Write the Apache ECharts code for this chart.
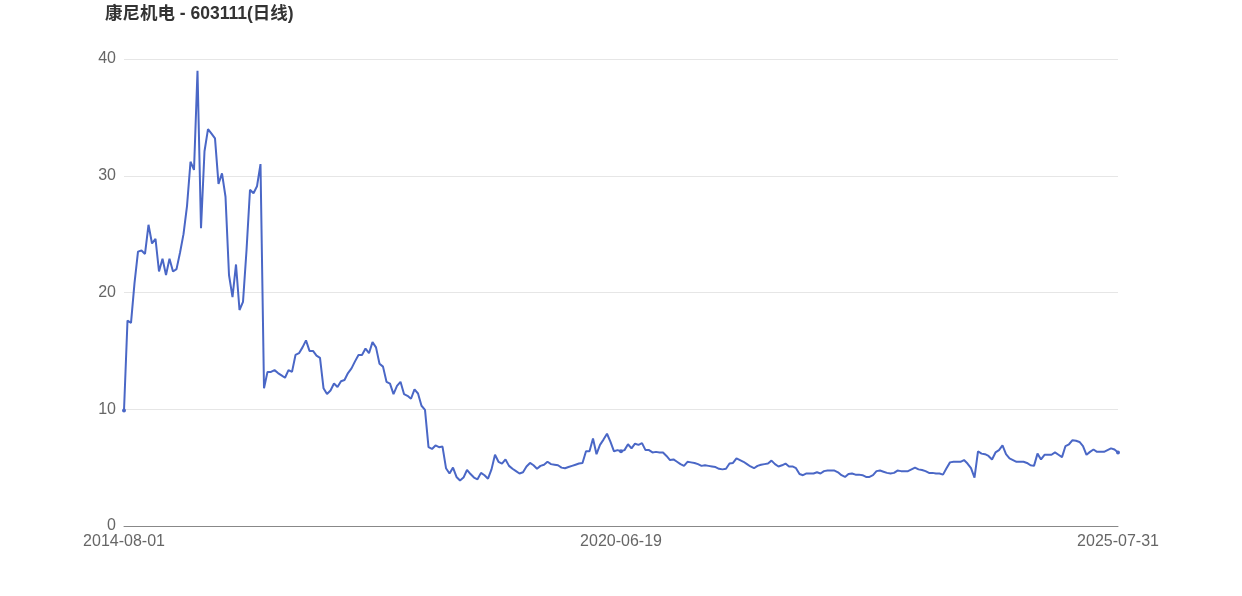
<!DOCTYPE html>
<html>
<head>
<meta charset="utf-8">
<script src="https://cdn.jsdelivr.net/npm/echarts@6/dist/echarts.min.js"></script>
<style>html,body{margin:0;padding:0;background:#fff}#c{width:1242px;height:596px}</style>
</head>
<body>
<div id="c"></div>
<script>
const titleText = '康尼机电 - 603111(日线)';
const dateAnchors = ['2014-08-01', '2020-06-19', '2025-07-31'];
const yTicks = [0, 10, 20, 30, 40];
const closePrices = [
 9.9,17.6,17.4,20.8,23.5,23.6,23.3,25.8,24.2,24.6,
 21.8,22.9,21.5,22.9,21.8,22.0,23.4,25.0,27.4,31.2,
 30.5,39.0,25.5,32.1,34.0,33.6,33.2,29.3,30.2,28.2,
 21.5,19.6,22.4,18.5,19.2,23.6,28.8,28.5,29.1,31.0,
 11.8,13.2,13.2,13.35,13.1,12.9,12.7,13.35,13.2,14.65,
 14.8,15.3,15.9,15.0,15.0,14.6,14.4,11.8,11.3,11.6,
 12.2,11.9,12.4,12.5,13.1,13.5,14.1,14.65,14.65,15.2,
 14.8,15.75,15.3,13.9,13.65,12.35,12.2,11.3,12.0,12.35,
 11.3,11.15,10.9,11.7,11.35,10.3,9.95,6.75,6.6,6.9,
 6.75,6.8,4.95,4.5,5.0,4.2,3.9,4.15,4.8,4.45,
 4.15,4.0,4.55,4.35,4.05,4.85,6.1,5.5,5.35,5.7,
 5.15,4.9,4.7,4.5,4.6,5.1,5.4,5.2,4.9,5.15,
 5.25,5.5,5.3,5.25,5.2,5.0,4.95,5.05,5.15,5.25,
 5.35,5.4,6.4,6.4,7.5,6.15,6.95,7.4,7.9,7.2,
 6.4,6.5,6.4,6.5,7.0,6.65,7.05,6.95,7.1,6.5,
 6.5,6.3,6.35,6.3,6.3,6.0,5.65,5.7,5.5,5.3,
 5.15,5.5,5.45,5.4,5.3,5.15,5.2,5.15,5.1,5.05,
 4.9,4.85,4.9,5.35,5.4,5.8,5.65,5.5,5.3,5.1,
 4.95,5.15,5.25,5.3,5.35,5.6,5.3,5.1,5.2,5.35,
 5.1,5.1,4.95,4.45,4.35,4.5,4.5,4.5,4.6,4.5,
 4.7,4.75,4.75,4.75,4.6,4.35,4.2,4.45,4.5,4.4,
 4.4,4.35,4.2,4.2,4.35,4.7,4.75,4.65,4.55,4.5,
 4.55,4.75,4.7,4.7,4.7,4.85,5.0,4.85,4.8,4.7,
 4.55,4.55,4.5,4.5,4.4,4.95,5.45,5.5,5.5,5.5,
 5.65,5.35,4.95,4.15,6.4,6.2,6.15,6.0,5.7,6.3,
 6.5,6.9,6.15,5.8,5.65,5.5,5.5,5.5,5.4,5.2,
 5.15,6.2,5.7,6.1,6.1,6.1,6.3,6.1,5.9,6.85,
 7.0,7.35,7.3,7.2,6.85,6.1,6.35,6.55,6.35,6.35,
 6.35,6.5,6.65,6.55,6.3
];
const N = closePrices.length;
const MID = Math.floor((N - 1) / 2);
const categories = closePrices.map((_, i) =>
  i === 0 ? dateAnchors[0] : i === MID ? dateAnchors[1] : i === N - 1 ? dateAnchors[2] : 'd' + i);

const chart = echarts.init(document.getElementById('c'), null, {renderer: 'canvas'});
chart.setOption({
  animation: false,
  title: {
    text: titleText, left: 105, top: 5, padding: 0,
    textStyle: {fontSize: 17.5, fontWeight: 'bold', color: '#333', fontFamily: 'Liberation Sans, Noto Sans CJK SC, sans-serif'}
  },
  grid: {left: 124, right: 124, top: 59, bottom: 70},
  xAxis: {
    type: 'category', data: categories, boundaryGap: false,
    axisTick: {show: false},
    axisLine: {lineStyle: {color: '#888'}},
    axisLabel: {
      interval: (idx) => idx === 0 || idx === MID || idx === N - 1,
      color: '#666', fontSize: 16, margin: 8, fontFamily: 'Liberation Sans, sans-serif'
    }
  },
  yAxis: {
    type: 'value', min: yTicks[0], max: yTicks[yTicks.length - 1], interval: 10,
    axisLabel: {color: '#666', fontSize: 16, margin: 8, fontFamily: 'Liberation Sans, sans-serif'},
    splitLine: {lineStyle: {color: '#e6e6e6'}}
  },
  series: [{
    type: 'line', data: closePrices,
    lineStyle: {color: '#4a67c6', width: 2},
    itemStyle: {color: '#4a67c6'},
    symbol: 'circle', symbolSize: 4
  }]
});
</script>
</body>
</html>
